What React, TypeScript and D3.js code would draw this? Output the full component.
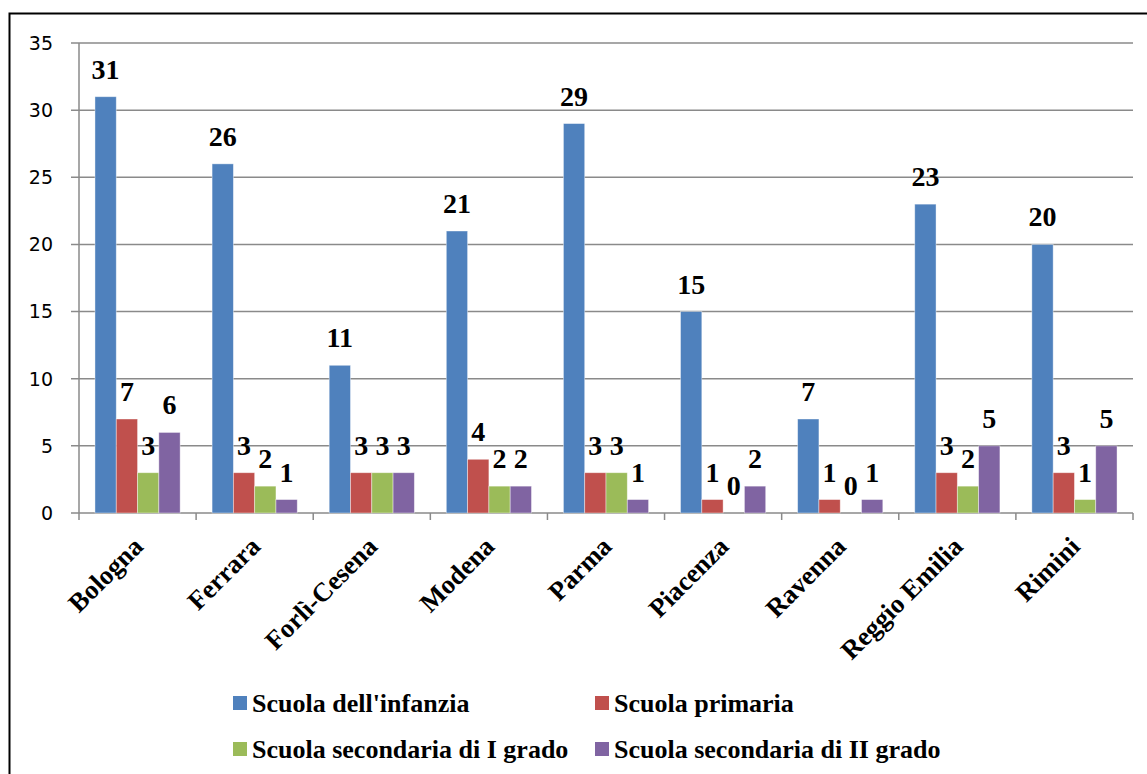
import React from "react";
import * as d3 from "d3";

const categories = ["Bologna", "Ferrara", "Forlì-Cesena", "Modena", "Parma", "Piacenza", "Ravenna", "Reggio Emilia", "Rimini"];
const seriesNames = ["Scuola dell'infanzia", "Scuola primaria", "Scuola secondaria di I grado", "Scuola secondaria di II grado"];
const infanzia = [31, 26, 11, 21, 29, 15, 7, 23, 20];
const primaria = [7, 3, 3, 4, 3, 1, 1, 3, 3];
const secondariaI = [3, 2, 3, 2, 3, 0, 0, 2, 1];
const secondariaII = [6, 1, 3, 2, 1, 2, 1, 5, 5];
const yTicks = [0, 5, 10, 15, 20, 25, 30, 35];
const colors = ["#4F81BD", "#C0504D", "#9BBB59", "#8064A2"];

const seriesValues = [infanzia, primaria, secondariaI, secondariaII];

export default function App() {
  const W = 1147, H = 774;
  const left = 79, right = 1133, top = 43, bottom = 513;
  const x0 = d3.scaleBand<string>().domain(categories).range([left, right]).paddingInner(0).paddingOuter(0);
  const x1 = d3.scaleBand<string>().domain(seriesNames).range([0, x0.bandwidth()]).paddingInner(0).paddingOuter(0.75);
  const y = d3.scaleLinear().domain([0, 35]).range([bottom, top]);
  const serif = "'Liberation Serif', 'Times New Roman', serif";
  const legendPos = [
    { x: 233, y: 703 },
    { x: 595, y: 703 },
    { x: 233, y: 749 },
    { x: 595, y: 749 },
  ];
  return (
    <svg width={W} height={H} style={{ position: "absolute", left: 0, top: 0, background: "#fff" }}>
      <rect x={0} y={0} width={W} height={H} fill="#fff" />
      <rect x={9.5} y={13.5} width={1200} height={800} fill="none" stroke="#000" strokeWidth={2} />
      {yTicks.map((t) => (
        <g key={t}>
          <line x1={left - 8} x2={right} y1={y(t)} y2={y(t)} stroke="#8a8a8a" strokeWidth={1.5} />
          <text x={53} y={y(t)} dy="0.36em" textAnchor="end" fontFamily="'DejaVu Sans', Verdana, sans-serif" fontSize={19} fill="#000">
            {t}
          </text>
        </g>
      ))}
      <line x1={left} x2={left} y1={top} y2={bottom} stroke="#8a8a8a" strokeWidth={1.5} />
      {categories.map((c, i) => (
        <line key={"tk" + i} x1={x0(c)!} x2={x0(c)!} y1={bottom} y2={bottom + 7} stroke="#8a8a8a" strokeWidth={1.5} />
      ))}
      <line x1={right} x2={right} y1={bottom} y2={bottom + 7} stroke="#8a8a8a" strokeWidth={1.5} />
      {seriesValues.map((vals, s) =>
        vals.map((v, i) => {
          const bx = x0(categories[i])! + x1(seriesNames[s])!;
          const bw = x1.bandwidth();
          return (
            <g key={`b${s}-${i}`}>
              {v > 0 && (
                <rect x={bx} y={y(v)} width={bw} height={y(0) - y(v)} fill={colors[s]} stroke="rgba(255,255,255,0.5)" strokeWidth={0.8} />
              )}
              <text x={bx + bw / 2} y={y(v) - 18} textAnchor="middle" fontFamily={serif} fontWeight="bold" fontSize={28} fill="#000">
                {v}
              </text>
            </g>
          );
        })
      )}
      {categories.map((c, i) => {
        const cx = x0(c)! + x0.bandwidth() / 2 - 6;
        const cy = 535;
        return (
          <text key={"cl" + i} x={cx} y={cy} transform={`rotate(-45 ${cx} ${cy})`} textAnchor="end" dy="0.7em" fontFamily={serif} fontWeight="bold" fontSize={26.5} fill="#000">
            {c}
          </text>
        );
      })}
      {seriesNames.map((n, s) => (
        <g key={"lg" + s}>
          <rect x={legendPos[s].x} y={legendPos[s].y - 7} width={14} height={14} fill={colors[s]} />
          <text x={legendPos[s].x + 19} y={legendPos[s].y} dy="0.35em" fontFamily={serif} fontWeight="bold" fontSize={26} fill="#000">
            {n}
          </text>
        </g>
      ))}
    </svg>
  );
}
